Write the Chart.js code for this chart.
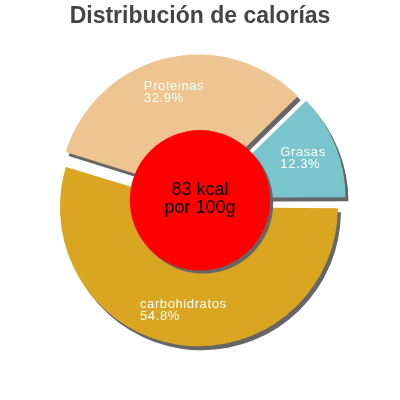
<!DOCTYPE html>
<html>
<head>
<meta charset="utf-8">
<script src="https://cdn.jsdelivr.net/npm/chart.js@4/dist/chart.umd.min.js"></script>
<style>
  html, body { margin: 0; padding: 0; background: #fff; }
  #wrap { width: 400px; height: 400px; }
</style>
</head>
<body>
<div id="wrap"><canvas id="caloriesChart" width="400" height="400"></canvas></div>
<script>
// values
const categories = ['carbohidratos', 'Proteinas', 'Grasas'];
const percentages = [54.8, 32.9, 12.3];
const sliceColors = ['#daa520', '#eec591', '#7ac5cd'];
const centerLines = ['83 kcal', 'por 100g'];
const titleText = 'Distribución de calorías';

// chart.js v4 draws offset/4, so 28 -> ~7px explode
const sliceOffset = 28;
const pieRadius = 139;

// v4 grows an exploded arc by offset*(1-sin(circ)); undo that so all slices keep the same radius
const sameRadiusPlugin = {
  id: 'sameRadius',
  afterDatasetUpdate(chart, args) {
    args.meta.data.forEach((arc) => {
      const off = (arc.options.offset || 0) / 4;
      const fix = 1 - Math.sin(Math.min(Math.PI, arc.circumference));
      arc.outerRadius = pieRadius - off * fix;
    });
  },
};

// drop shadow under the slices
const shadowPlugin = {
  id: 'sliceShadow',
  beforeDatasetsDraw(chart) {
    const ctx = chart.ctx;
    ctx.save();
    ctx.shadowColor = '#666';
    ctx.shadowOffsetX = 3;
    ctx.shadowOffsetY = 4;
    ctx.shadowBlur = 0;
  },
  afterDatasetsDraw(chart) {
    chart.ctx.restore();
  },
};

// red disc in the middle + slice labels
const overlayPlugin = {
  id: 'overlay',
  afterDatasetsDraw(chart) {
    const ctx = chart.ctx;
    const arcs = chart.getDatasetMeta(0).data;
    const cx = arcs[0].x;
    const cy = arcs[0].y;
    const R = pieRadius;

    ctx.save();
    ctx.shadowColor = '#666';
    ctx.shadowOffsetX = 3;
    ctx.shadowOffsetY = 3;
    ctx.beginPath();
    ctx.arc(cx, cy, R * 0.505, 0, Math.PI * 2);
    ctx.fillStyle = '#ff0000';
    ctx.fill();
    ctx.restore();

    ctx.save();
    ctx.fillStyle = '#000';
    ctx.font = '18px "Liberation Sans", Arial, sans-serif';
    ctx.textAlign = 'center';
    ctx.textBaseline = 'alphabetic';
    ctx.fillText(centerLines[0], cx, cy - 5);
    ctx.fillText(centerLines[1], cx, cy + 13);
    ctx.restore();

    // labels: two lines, block centred on the bisector
    ctx.save();
    ctx.fillStyle = '#fff';
    ctx.font = '13px "Liberation Sans", Arial, sans-serif';
    ctx.letterSpacing = '0.6px';
    ctx.textAlign = 'left';
    ctx.textBaseline = 'middle';
    arcs.forEach((arc, i) => {
      const mid = (arc.startAngle + arc.endAngle) / 2;
      const r = R * 0.75 + arc.options.offset / 4;
      const px = cx + Math.cos(mid) * r;
      const py = cy + Math.sin(mid) * r;
      const lines = [categories[i], percentages[i].toFixed(1) + '%'];
      const w = Math.max(...lines.map((l) => ctx.measureText(l).width));
      ctx.fillText(lines[0], px - w / 2, py - 6);
      ctx.fillText(lines[1], px - w / 2, py + 6);
    });
    ctx.restore();
  },
};

new Chart(document.getElementById('caloriesChart').getContext('2d'), {
  type: 'pie',
  data: {
    labels: categories,
    datasets: [
      {
        data: percentages,
        backgroundColor: sliceColors,
        borderWidth: 0,
        offset: sliceOffset,
        hoverOffset: 0,
      },
    ],
  },
  options: {
    responsive: false,
    animation: false,
    rotation: 90,
    radius: pieRadius,
    layout: { padding: { top: 0, bottom: 34 } },
    plugins: {
      legend: { display: false },
      tooltip: { enabled: false },
      title: {
        display: true,
        text: titleText,
        color: '#444',
        font: { family: '"Liberation Sans", Arial, sans-serif', size: 23, weight: 'bold' },
        padding: { top: 3, bottom: 4 },
      },
    },
  },
  plugins: [sameRadiusPlugin, shadowPlugin, overlayPlugin],
});
</script>
</body>
</html>
